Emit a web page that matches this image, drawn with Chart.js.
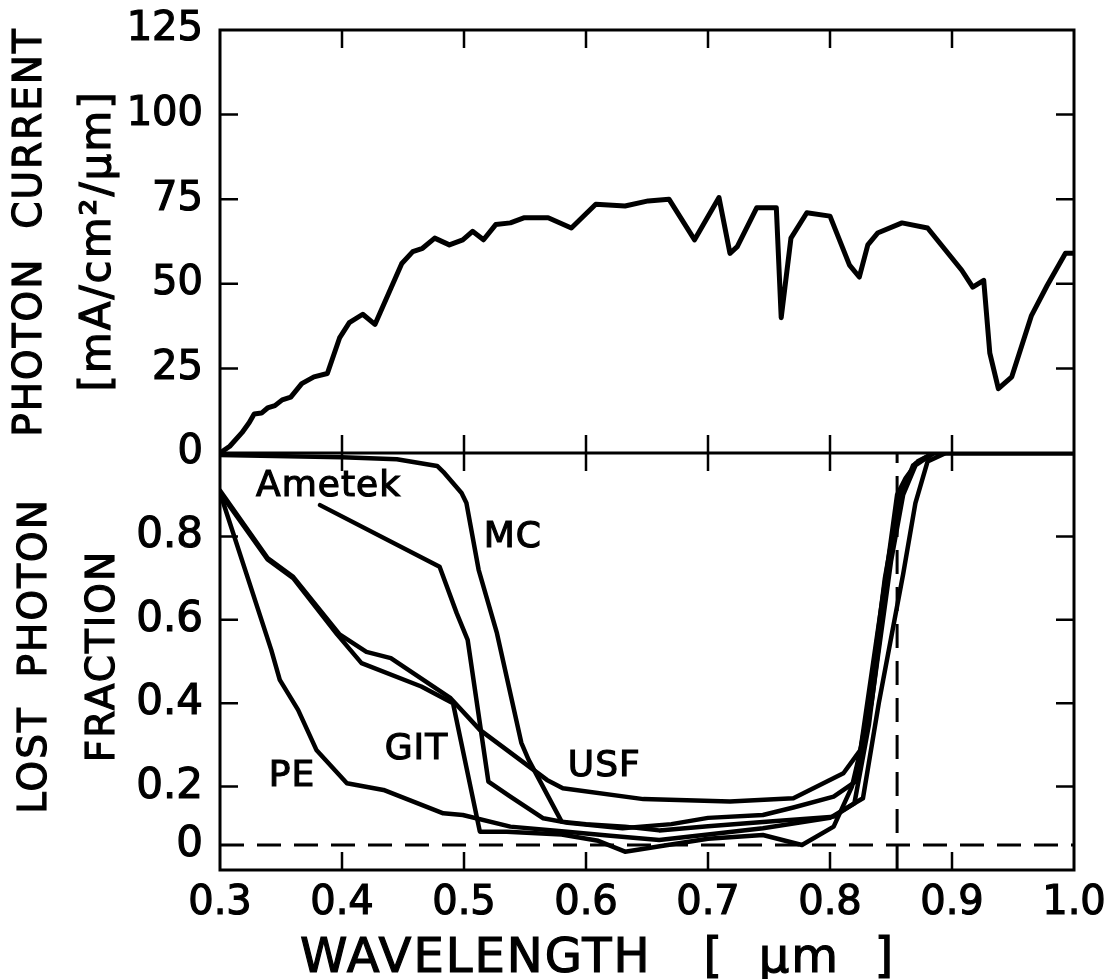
<!DOCTYPE html>
<html>
<head>
<meta charset="utf-8">
<script src="https://cdn.jsdelivr.net/npm/chart.js@4.4.1/dist/chart.umd.min.js"></script>
<style>
  html, body { margin: 0; padding: 0; background: #fff; }
</style>
</head>
<body>
<canvas id="chart" width="1105" height="979"></canvas>
<script>
"use strict";

// photon current spectrum (top panel)
var photonWl = [0.300, 0.308, 0.318, 0.324, 0.328, 0.334, 0.339, 0.345, 0.351, 0.358, 0.367, 0.377, 0.388, 0.398, 0.406, 0.417, 0.427, 0.449, 0.458, 0.466, 0.476, 0.488, 0.499, 0.507, 0.516, 0.526, 0.538, 0.549, 0.569, 0.588, 0.608, 0.632, 0.651, 0.668, 0.689, 0.709, 0.718, 0.724, 0.740, 0.756, 0.760, 0.768, 0.781, 0.800, 0.816, 0.824, 0.831, 0.839, 0.859, 0.880, 0.908, 0.917, 0.926, 0.931, 0.938, 0.949, 0.965, 0.978, 0.993, 1.000];
var photonCurrent = [0, 2, 6, 9, 11.5, 11.8, 13.3, 14, 15.7, 16.5, 20.5, 22.5, 23.5, 34, 38.5, 41, 38, 56, 59.5, 60.5, 63.5, 61.5, 63, 65.5, 63, 67.5, 68, 69.5, 69.5, 66.5, 73.5, 73, 74.5, 75, 63, 75.5, 59, 61, 72.5, 72.5, 40, 63.5, 71, 70, 55.5, 52, 61.5, 65, 68, 66.5, 54, 49, 51, 29.5, 19, 22.5, 40.5, 49.5, 59, 59];

// lost photon fraction (bottom panel)
var usfWl = [0.300, 0.339, 0.360, 0.398, 0.420, 0.440, 0.489, 0.513, 0.568, 0.581, 0.647, 0.718, 0.770, 0.811, 0.825, 0.838, 0.848, 0.855, 0.862, 0.872, 0.885, 1.000];
var usfLoss = [0.91, 0.748, 0.703, 0.565, 0.523, 0.508, 0.412, 0.336, 0.216, 0.196, 0.170, 0.164, 0.172, 0.232, 0.288, 0.55, 0.75, 0.90, 0.94, 0.98, 1.0, 1.0];

var gitWl = [0.300, 0.339, 0.360, 0.396, 0.416, 0.465, 0.491, 0.513, 0.535, 0.580, 0.610, 0.632, 0.667, 0.700, 0.745, 0.777, 0.803, 0.818, 0.834, 0.850, 0.860, 0.870, 0.885, 1.000];
var gitLoss = [0.905, 0.745, 0.70, 0.565, 0.496, 0.44, 0.40, 0.092, 0.092, 0.085, 0.07, 0.044, 0.06, 0.075, 0.084, 0.06, 0.104, 0.20, 0.40, 0.74, 0.90, 0.97, 1.0, 1.0];

var peWl = [0.300, 0.342, 0.349, 0.364, 0.379, 0.404, 0.434, 0.483, 0.499, 0.538, 0.580, 0.620, 0.660, 0.700, 0.745, 0.800, 0.827, 0.840, 0.860, 0.870, 0.880, 0.895, 1.000];
var peLoss = [0.905, 0.528, 0.456, 0.384, 0.288, 0.208, 0.192, 0.136, 0.132, 0.104, 0.093, 0.082, 0.072, 0.085, 0.100, 0.125, 0.172, 0.40, 0.71, 0.88, 0.98, 1.0, 1.0];

var ametekWl = [0.382, 0.480, 0.494, 0.503, 0.520, 0.538, 0.565, 0.585, 0.630, 0.670, 0.700, 0.745, 0.770, 0.803, 0.820, 0.832, 0.845, 0.856, 0.868, 0.885, 1.000];
var ametekLoss = [0.875, 0.727, 0.616, 0.552, 0.212, 0.176, 0.124, 0.113, 0.10, 0.11, 0.125, 0.132, 0.15, 0.176, 0.21, 0.40, 0.70, 0.88, 0.97, 1.0, 1.0];

var mcWl = [0.300, 0.400, 0.445, 0.478, 0.483, 0.498, 0.502, 0.512, 0.527, 0.547, 0.553, 0.580, 0.600, 0.632, 0.660, 0.700, 0.745, 0.803, 0.820, 0.832, 0.846, 0.858, 0.870, 0.885, 1.000];
var mcLoss = [0.995, 0.99, 0.985, 0.969, 0.955, 0.904, 0.88, 0.72, 0.568, 0.305, 0.264, 0.116, 0.11, 0.104, 0.095, 0.105, 0.115, 0.128, 0.16, 0.35, 0.68, 0.90, 0.975, 1.0, 1.0];

// axes
var currentTicks = [0, 25, 50, 75, 100, 125];
var lossTicks = [0.2, 0.4, 0.6, 0.8];
var zeroLevel = 0.06;       // the dashed line labelled "0"
var cutoffWl = 0.855;       // vertical dashed line

var curveLabels = [
    { text: 'Ametek', wl: 0.389, v: 0.919 },
    { text: 'MC', wl: 0.540, v: 0.796 },
    { text: 'PE', wl: 0.359, v: 0.224 },
    { text: 'GIT', wl: 0.461, v: 0.288 },
    { text: 'USF', wl: 0.615, v: 0.247 }
];

var FONT = '"DejaVu Sans", sans-serif';

function pts(xs, ys) {
    return xs.map(function (x, i) { return { x: x, y: ys[i] }; });
}

function curve(xs, ys, axis, width) {
    return {
        data: pts(xs, ys),
        yAxisID: axis,
        borderColor: '#000',
        borderWidth: width,
        pointRadius: 0,
        borderJoinStyle: 'round',
        borderCapStyle: 'round',
        fill: false,
        tension: 0
    };
}

function dashed(data) {
    return {
        data: data,
        yAxisID: 'yBot',
        borderColor: '#000',
        borderWidth: 3,
        borderDash: [24, 13],
        pointRadius: 0,
        fill: false
    };
}

// heavy text: fill plus a thin stroke, like the old lettering
function heavyText(ctx, text, x, y) {
    ctx.fillText(text, x, y);
    ctx.strokeText(text, x, y);
}

function sideTitle(ctx, text, x, y, size) {
    ctx.save();
    ctx.translate(x, y);
    ctx.rotate(-Math.PI / 2);
    ctx.font = size + 'px ' + FONT;
    ctx.textAlign = 'center';
    ctx.textBaseline = 'alphabetic';
    heavyText(ctx, text, 0, 0);
    ctx.restore();
}

var framePlugin = {
    id: 'frame',
    beforeDraw: function (chart) {
        chart.ctx.letterSpacing = '0px';
    },
    afterDatasetsDraw: function (chart) {
        var ctx = chart.ctx, a = chart.chartArea;
        var x = chart.scales.x, yt = chart.scales.yTop, yb = chart.scales.yBot;
        var mid = yb.top;
        var T = 18;
        ctx.save();
        ctx.strokeStyle = '#000';
        ctx.lineWidth = 3;
        ctx.strokeRect(a.left, a.top, a.right - a.left, a.bottom - a.top);
        ctx.beginPath();
        ctx.moveTo(a.left, mid);
        ctx.lineTo(a.right, mid);
        ctx.stroke();

        ctx.lineWidth = 2.5;
        ctx.beginPath();
        x.ticks.forEach(function (t) {
            if (t.value <= x.min + 1e-6 || t.value >= x.max - 1e-6) return;
            var px = x.getPixelForValue(t.value);
            ctx.moveTo(px, a.bottom); ctx.lineTo(px, a.bottom - T);
            ctx.moveTo(px, a.top); ctx.lineTo(px, a.top + T);
            ctx.moveTo(px, mid - T); ctx.lineTo(px, mid + T);
        });
        currentTicks.forEach(function (v) {
            if (v === 0 || v === 125) return;
            var py = yt.getPixelForValue(v);
            ctx.moveTo(a.left, py); ctx.lineTo(a.left + T, py);
            ctx.moveTo(a.right, py); ctx.lineTo(a.right - T, py);
        });
        lossTicks.forEach(function (v) {
            var py = yb.getPixelForValue(v);
            ctx.moveTo(a.left, py); ctx.lineTo(a.left + T, py);
            ctx.moveTo(a.right, py); ctx.lineTo(a.right - T, py);
        });
        ctx.stroke();

        ctx.fillStyle = '#000';
        ctx.lineWidth = 1.2;
        ctx.letterSpacing = '1px';
        ctx.textAlign = 'center';
        ctx.textBaseline = 'middle';
        ctx.font = '36px ' + FONT;
        curveLabels.forEach(function (l) {
            heavyText(ctx, l.text, x.getPixelForValue(l.wl), yb.getPixelForValue(l.v));
        });

        // axis titles
        ctx.letterSpacing = '2px';
        ctx.textAlign = 'left';
        ctx.textBaseline = 'alphabetic';
        ctx.font = '48px ' + FONT;
        heavyText(ctx, 'WAVELENGTH   [  \u03bcm  ]', 300, 972);

        sideTitle(ctx, 'PHOTON  CURRENT', 41, 232, 39);
        sideTitle(ctx, '[mA/cm\u00b2/\u03bcm]', 110, 241, 42);
        sideTitle(ctx, 'LOST  PHOTON', 46, 656, 39);
        sideTitle(ctx, 'FRACTION', 114, 656, 39);
        ctx.restore();
    }
};

var ctx = document.getElementById('chart').getContext('2d');

var myChart = new Chart(ctx, {
    type: 'line',
    data: {
        datasets: [
            curve(photonWl, photonCurrent, 'yTop', 5),
            curve(mcWl, mcLoss, 'yBot', 4.5),
            curve(ametekWl, ametekLoss, 'yBot', 4.5),
            curve(usfWl, usfLoss, 'yBot', 4.5),
            curve(gitWl, gitLoss, 'yBot', 4.5),
            curve(peWl, peLoss, 'yBot', 4.5),
            dashed([{ x: 0.3, y: zeroLevel }, { x: 1.0, y: zeroLevel }]),
            dashed([{ x: cutoffWl, y: 0 }, { x: cutoffWl, y: 1 }])
        ]
    },
    options: {
        responsive: false,
        animation: false,
        layout: { padding: { top: 30, right: 31, left: 0, bottom: 0 } },
        plugins: {
            legend: { display: false },
            tooltip: { enabled: false }
        },
        scales: {
            x: {
                type: 'linear',
                min: 0.3,
                max: 1.0,
                grid: { display: false, drawTicks: false },
                border: { display: false },
                ticks: {
                    stepSize: 0.1,
                    autoSkip: false,
                    maxRotation: 0,
                    padding: 10,
                    color: '#000',
                    textStrokeColor: '#000',
                    textStrokeWidth: 1.2,
                    font: { family: FONT, size: 40 },
                    callback: function (v) { return v.toFixed(1); }
                },
                afterFit: function (s) {
                    s.height = 109;
                    s.paddingLeft = 0;
                    s.paddingRight = 0;
                }
            },
            yBot: {
                type: 'linear',
                position: 'left',
                stack: 'panels',
                stackWeight: 417,
                weight: 1,
                min: 0,
                max: 1,
                grid: { display: false, drawTicks: false },
                border: { display: false },
                afterBuildTicks: function (s) {
                    s.ticks = [zeroLevel].concat(lossTicks).map(function (v) { return { value: v }; });
                },
                ticks: {
                    autoSkip: false,
                    padding: 17,
                    color: '#000',
                    textStrokeColor: '#000',
                    textStrokeWidth: 1.2,
                    font: { family: FONT, size: 42 },
                    callback: function (v) { return v === zeroLevel ? '0' : v.toFixed(1); }
                },
                afterFit: function (s) {
                    s.width = 220;
                    s.paddingTop = 0;
                    s.paddingBottom = 0;
                }
            },
            yTop: {
                type: 'linear',
                position: 'left',
                stack: 'panels',
                stackWeight: 423,
                weight: 2,
                min: 0,
                max: 125,
                grid: { display: false, drawTicks: false },
                border: { display: false },
                afterBuildTicks: function (s) {
                    s.ticks = currentTicks.map(function (v) { return { value: v }; });
                },
                ticks: {
                    autoSkip: false,
                    padding: 17,
                    color: '#000',
                    textStrokeColor: '#000',
                    textStrokeWidth: 1.2,
                    font: { family: FONT, size: 40 }
                },
                afterFit: function (s) {
                    s.width = 220;
                    s.paddingTop = 0;
                    s.paddingBottom = 0;
                }
            }
        }
    },
    plugins: [framePlugin]
});
</script>
</body>
</html>
